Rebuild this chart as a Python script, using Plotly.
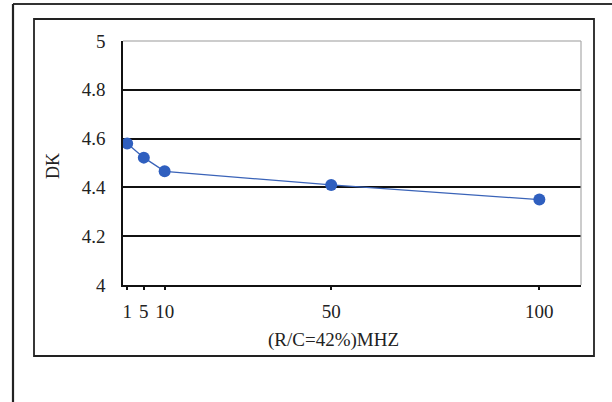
import plotly.graph_objects as go

freq = [1, 5, 10, 50, 100]
dk = [4.58, 4.522, 4.466, 4.41, 4.35]
x_ticks = [1, 5, 10, 50, 100]
x_labels = ["1", "5", "10", "50", "100"]
y_ticks = [4, 4.2, 4.4, 4.6, 4.8, 5]
y_labels = ["4", "4.2", "4.4", "4.6", "4.8", "5"]

W, H = 612, 402
L, R, T, B = 123, 581, 41, 285

def px(x):
    return (x - L) / (R - L)

def py(y):
    return (B - y) / (B - T)

font_fam = "Liberation Serif, DejaVu Serif, serif"

fig = go.Figure()
fig.add_trace(go.Scatter(
    x=freq, y=dk, mode="lines+markers",
    line=dict(color="#3A63B8", width=1.3),
    marker=dict(color="#2F5FBF", size=12),
    showlegend=False,
))

fig.update_layout(
    width=W, height=H,
    margin=dict(l=L, r=W - R, t=T, b=H - B),
    paper_bgcolor="white", plot_bgcolor="white",
    font=dict(family=font_fam, color="#222"),
    xaxis=dict(
        range=[0, 110], tickvals=x_ticks, ticktext=x_labels,
        showgrid=False, zeroline=False,
        showline=True, linecolor="#111", linewidth=1.5,
        ticks="outside", ticklen=3, tickwidth=2, tickcolor="#111",
        ticklabelstandoff=5,
        tickfont=dict(size=19, family=font_fam, color="#222"),
    ),
    yaxis=dict(
        range=[4, 5], tickvals=y_ticks, ticktext=y_labels,
        showgrid=True, gridcolor="#111", gridwidth=1.5,
        zeroline=False,
        showline=True, linecolor="#111", linewidth=1.5,
        ticks="", ticklabelstandoff=12,
        tickfont=dict(size=19, family=font_fam, color="#222"),
    ),
)

fig.add_annotation(text="(R/C=42%)MHZ", xref="paper", yref="paper",
                   x=px(333), y=py(340), xanchor="center", yanchor="middle",
                   showarrow=False,
                   font=dict(size=19, family=font_fam, color="#222"))
fig.add_annotation(text="DK", xref="paper", yref="paper",
                   x=px(53), y=py(166), xanchor="center", yanchor="middle",
                   showarrow=False, textangle=-90,
                   font=dict(size=18, family=font_fam, color="#222"))

shapes = []
shapes.append(dict(type="line", xref="paper", yref="paper", x0=0, x1=1, y0=1, y1=1,
                   line=dict(color="#999", width=1.2)))
shapes.append(dict(type="line", xref="paper", yref="paper", x0=1, x1=1, y0=0, y1=1,
                   line=dict(color="#aaa", width=1.2)))
shapes.append(dict(type="rect", xref="paper", yref="paper",
                   x0=px(34), x1=px(594), y0=py(356), y1=py(19),
                   line=dict(color="#222", width=1.8)))
shapes.append(dict(type="line", xref="paper", yref="paper",
                   x0=px(13), x1=px(612), y0=py(4), y1=py(4),
                   line=dict(color="#333", width=2.2)))
shapes.append(dict(type="line", xref="paper", yref="paper",
                   x0=px(13), x1=px(13), y0=py(4), y1=py(402),
                   line=dict(color="#222", width=2.2)))
fig.update_layout(shapes=shapes)

fig.write_html("out.html", config={"displayModeBar": False},
               post_script="document.body.style.margin='0';document.body.style.overflow='hidden';")
